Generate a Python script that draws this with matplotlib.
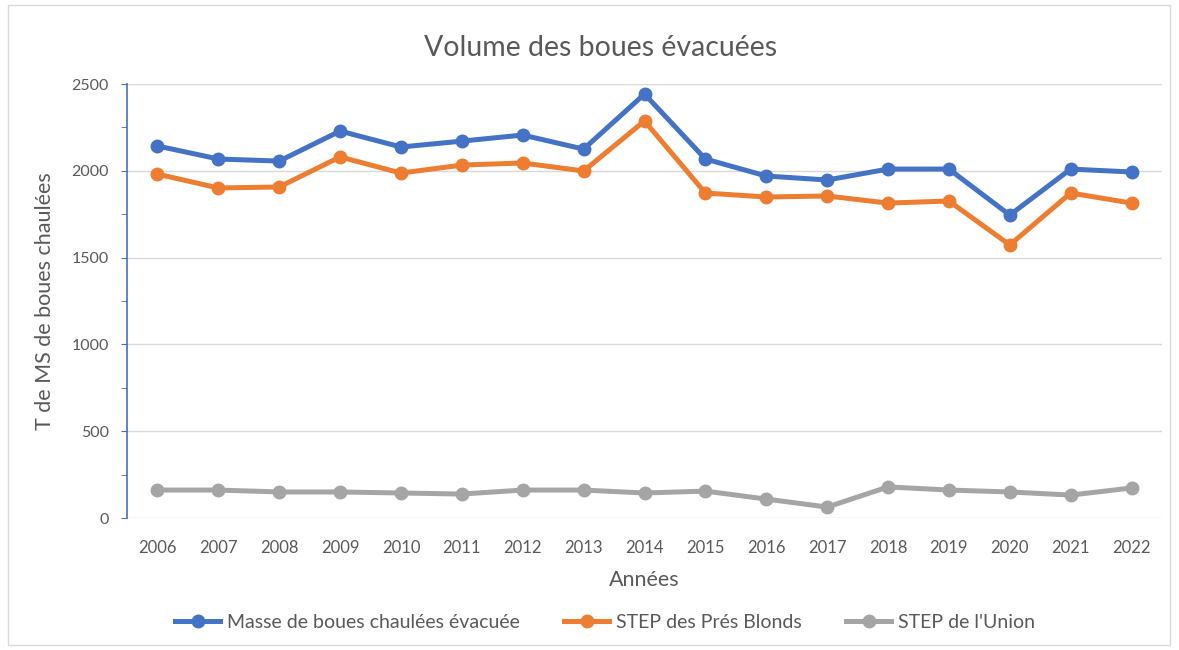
import matplotlib.pyplot as plt
from matplotlib.patches import Rectangle

plt.rcParams['font.family'] = ['Lato', 'DejaVu Sans']

annees = ['2006', '2007', '2008', '2009', '2010', '2011', '2012', '2013', '2014',
          '2015', '2016', '2017', '2018', '2019', '2020', '2021', '2022']
masse_totale = [2143, 2068, 2056, 2229, 2137, 2171, 2206, 2125, 2442,
                2068, 1970, 1947, 2010, 2010, 1745, 2010, 1993]
pres_blonds = [1981, 1901, 1907, 2080, 1987, 2033, 2045, 1999, 2287,
               1872, 1849, 1855, 1814, 1826, 1573, 1872, 1814]
union = [161, 161, 150, 150, 144, 138, 161, 161, 144,
         155, 109, 63, 179, 161, 150, 132, 173]

fig = plt.figure(figsize=(11.79, 6.5), dpi=100)
fig.patches.append(Rectangle((8 / 1179, 5 / 650), 1162 / 1179, 640 / 650,
                             transform=fig.transFigure, fill=False,
                             edgecolor='#d9d9d9', linewidth=1))
ax = fig.add_axes([127 / 1179, 132 / 650, 1035 / 1179, 434 / 650])

x = range(len(annees))
series = [
    (masse_totale, '#4472c4', 'Masse de boues chaulées évacuée'),
    (pres_blonds, '#ed7d31', 'STEP des Prés Blonds'),
    (union, '#a5a5a5', "STEP de l'Union"),
]
for vals, col, lab in series:
    ax.plot(x, vals, color=col, lw=3.6, marker='o', ms=9, label=lab,
            solid_joinstyle='round')

ax.set_xlim(-0.5, len(annees) - 0.5)
ax.set_ylim(0, 2500)
ax.set_yticks(range(0, 2501, 500))
ax.set_yticks(range(0, 2501, 250), minor=True)
ax.set_xticks(list(x))
ax.set_xticklabels(annees)
ax.grid(axis='y', color='#d9d9d9', lw=1)
ax.set_axisbelow(True)
for s in ['top', 'right', 'bottom']:
    ax.spines[s].set_visible(False)
ax.spines['left'].set_color('#4472c4')
ax.spines['left'].set_linewidth(1.2)
ax.tick_params(axis='y', which='both', colors='#4472c4', labelcolor='#595959',
               labelsize=11.5, length=4, direction='out', pad=9)
ax.tick_params(axis='x', length=0, labelcolor='#595959', labelsize=12, pad=16)

fig.suptitle('Volume des boues évacuées', x=601 / 1179, y=1 - 48 / 650,
             va='center', fontsize=20.5, color='#595959')
ax.set_xlabel('Années', fontsize=15.5, color='#595959')
ax.set_ylabel('T de MS de boues chaulées', fontsize=15.5, color='#595959')
ax.xaxis.set_label_coords(0.5, -62 / 434)
ax.yaxis.set_label_coords(-82 / 1035, 0.5)
ax.xaxis.label.set_va('center')
ax.yaxis.label.set_va('center')

fig.legend(loc='center', bbox_to_anchor=(605 / 1179, 28 / 650), ncol=3, frameon=False,
           fontsize=14, labelcolor='#595959', handlelength=2.3, columnspacing=2.3,
           handletextpad=0.35)

fig.savefig('out.png', dpi=100)
